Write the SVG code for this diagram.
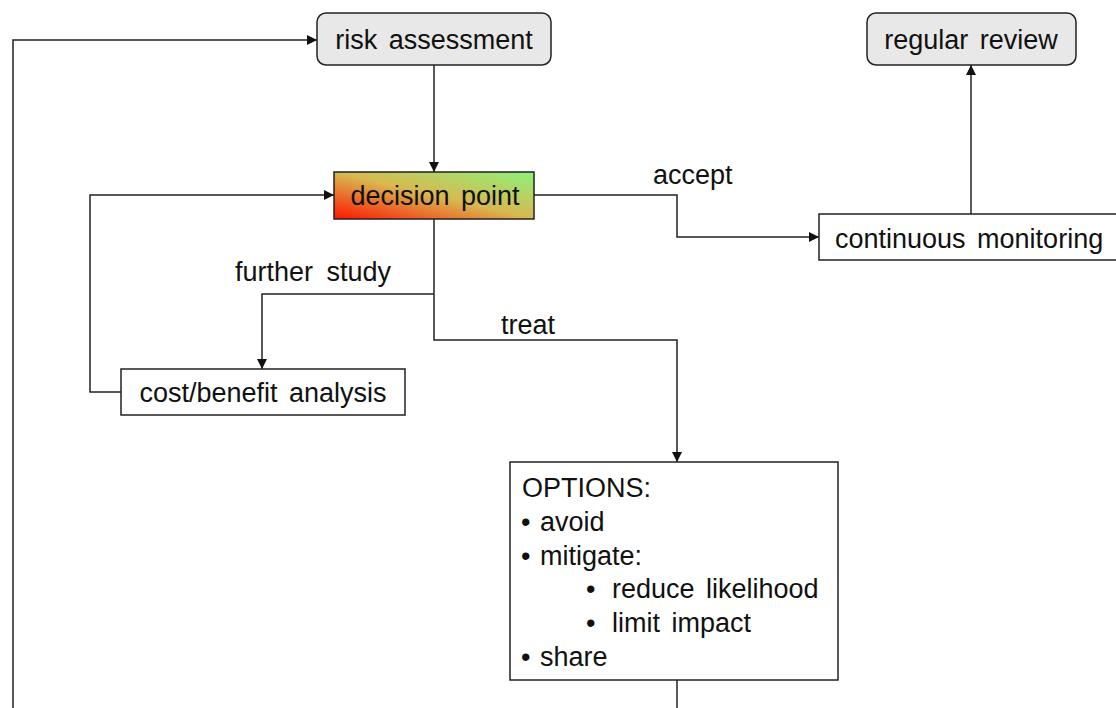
<svg xmlns="http://www.w3.org/2000/svg" width="1116" height="708" viewBox="0 0 1116 708">
  <style>
    text { font-family: "Liberation Sans", Arial, sans-serif; font-size: 27px; fill: #111; word-spacing: 4px; }
    .c { text-anchor: middle; }
    .round { fill: #e8e8e8; stroke: #222; stroke-width: 1.5; }
    .box { fill: #fff; stroke: #222; stroke-width: 1.5; }
    .wire { fill: none; stroke: #222; stroke-width: 1.5; }
  </style>
  <defs>
    <marker id="arrow" viewBox="0 0 10 10" refX="10" refY="5" markerWidth="10" markerHeight="10" markerUnits="userSpaceOnUse" orient="auto">
      <path d="M0,0 L10,5 L0,10 z" fill="#111"/>
    </marker>
    <linearGradient id="grad" x1="0" y1="1" x2="1" y2="0">
      <stop offset="0" stop-color="#ff1400"/>
      <stop offset="0.5" stop-color="#d8b850"/>
      <stop offset="1" stop-color="#8ef27a"/>
    </linearGradient>
  </defs>

  <rect width="1116" height="708" fill="#fff"/>

  <g id="connectors">
    <path class="wire" d="M13,708 V40 H317" marker-end="url(#arrow)"/>
    <path class="wire" d="M434,65 V172" marker-end="url(#arrow)"/>
    <path class="wire" d="M534,195 H677 V237 H819" marker-end="url(#arrow)"/>
    <path class="wire" d="M971,214 V65" marker-end="url(#arrow)"/>
    <path class="wire" d="M434,219 V340 H677 V462" marker-end="url(#arrow)"/>
    <path class="wire" d="M434,294 H262 V369" marker-end="url(#arrow)"/>
    <path class="wire" d="M121,392 H90 V195 H334" marker-end="url(#arrow)"/>
    <path class="wire" d="M677,680 V708"/>
    <text x="653" y="184">accept</text>
    <text x="235" y="281" style="word-spacing:6px">further study</text>
    <text x="501" y="334">treat</text>
  </g>

  <g id="risk-assessment">
    <rect class="round" x="317" y="13" width="234" height="52" rx="9"/>
    <text class="c" x="434" y="49">risk assessment</text>
  </g>

  <g id="regular-review">
    <rect class="round" x="867" y="13" width="209" height="52" rx="9"/>
    <text class="c" x="971" y="49">regular review</text>
  </g>

  <g id="decision-point">
    <rect x="334" y="172" width="200" height="47" fill="url(#grad)" stroke="#222" stroke-width="1.5"/>
    <text class="c" x="435" y="205">decision point</text>
  </g>

  <g id="continuous-monitoring">
    <rect class="box" x="819" y="214" width="300" height="46"/>
    <text x="835" y="248">continuous monitoring</text>
  </g>

  <g id="cost-benefit">
    <rect class="box" x="121" y="369" width="284" height="46"/>
    <text class="c" x="263" y="402">cost/benefit analysis</text>
  </g>

  <g id="options">
    <rect class="box" x="510" y="462" width="328" height="218"/>
    <text x="522" y="497">OPTIONS:</text>
    <text y="531"><tspan x="521">•</tspan><tspan x="540">avoid</tspan></text>
    <text y="565"><tspan x="521">•</tspan><tspan x="540">mitigate:</tspan></text>
    <text y="598"><tspan x="586">•</tspan><tspan x="612">reduce likelihood</tspan></text>
    <text y="632"><tspan x="586">•</tspan><tspan x="612">limit impact</tspan></text>
    <text y="666"><tspan x="521">•</tspan><tspan x="540">share</tspan></text>
  </g>
</svg>
